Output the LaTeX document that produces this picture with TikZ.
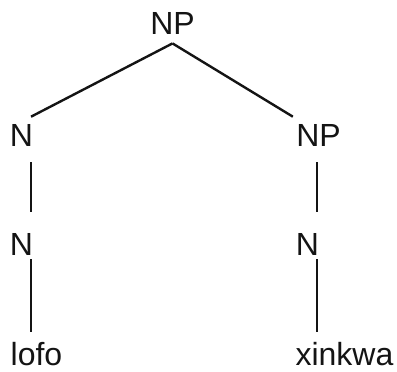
\documentclass[tikz,border=0pt]{standalone}
\usepackage{fontspec}
\setmainfont{Liberation Sans}
\usepackage{xcolor}
\usepackage{tikz}
\usetikzlibrary{calc}
\definecolor{ink}{HTML}{141414}
\tikzset{cat/.style={inner xsep=-1.2pt,inner ysep=3pt,text height=11.46pt,text depth=0pt,anchor=base,text=ink,font=\fontsize{16}{19}\selectfont},branch/.style={draw=ink,line width=1.2pt},upper/.style={branch,shorten <=5pt,shorten >=7pt},lower/.style={branch,shorten <=-1pt,shorten >=2pt}}

\begin{document}
\begin{tikzpicture}[x=0.5pt,y=-0.5pt]
 \useasboundingbox (0,0) rectangle (397,371);
 \node[cat,inner ysep=4.5pt] (root) at (172.5,34) {NP};
 \node[cat] (nl) at (21.5,146) {N}; \node[cat,inner xsep=1.5pt] (nr) at (318.5,146) {NP};
 \node[cat] (nl2) at (21.5,255) {N}; \node[cat] (nr2) at (307.5,255) {N};
 \node[cat] (lofo) at (36.5,365) {lofo}; \node[cat] (xinkwa) at (344.5,365) {xinkwa};
 \draw[branch] (root.south) -- (nl.north east);
 \draw[branch] (root.south) -- (nr.north west);
 \draw[upper] (nl.south east) -- (nl2.north east);
 \draw[upper] (nr.south -| nr2.east) -- (nr2.north east);
 \draw[lower] (nl2.south east) -- (nl2.east |- lofo.north);
 \draw[lower] (nr2.south east) -- (nr2.east |- xinkwa.north);
\end{tikzpicture}
\end{document}
